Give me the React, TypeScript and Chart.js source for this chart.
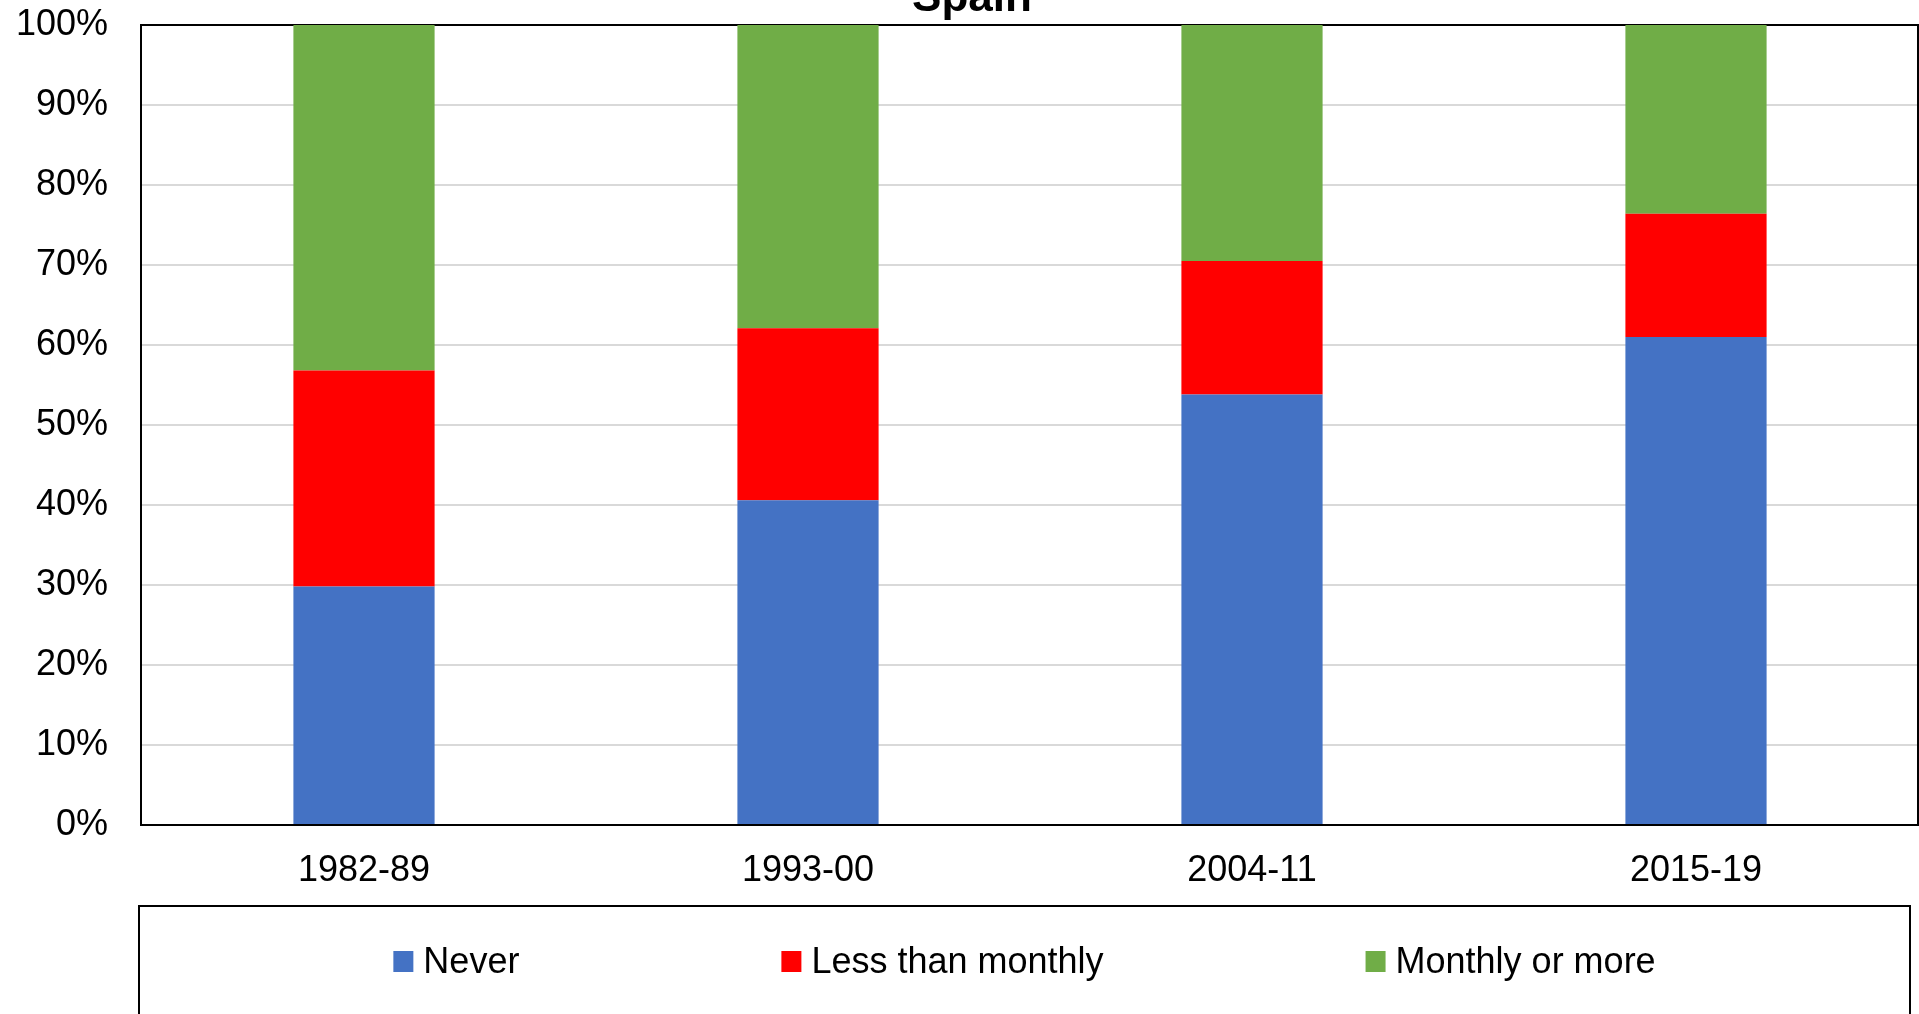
import React, { useEffect, useRef } from "react";
import { Chart, registerables } from "chart.js";

Chart.register(...registerables);

const chartTitle = "Spain";
const categories = ["1982-89", "1993-00", "2004-11", "2015-19"];
const seriesNames = ["Never", "Less than monthly", "Monthly or more"];
const neverValues = [29.8, 40.6, 53.8, 61.0];
const lessThanMonthlyValues = [27.0, 21.5, 16.7, 15.4];
const monthlyOrMoreValues = [43.2, 37.9, 29.5, 23.6];
const seriesColors = ["#4472C4", "#FF0000", "#70AD47"];
const yTickValues = [0, 10, 20, 30, 40, 50, 60, 70, 80, 90, 100];

const FONT = '"Liberation Sans", Arial, Helvetica, sans-serif';
const W = 1919;
const H = 1014;

const plotBorder = {
  id: "plotBorder",
  beforeDatasetsDraw(chart: any) {
    const { ctx, chartArea: a } = chart;
    ctx.save();
    ctx.strokeStyle = "#000000";
    ctx.lineWidth = 2;
    ctx.strokeRect(a.left - 1, a.top, a.right - a.left + 1, a.bottom - a.top);
    ctx.restore();
  },
};

// Title sits partly above the top edge of the canvas, as in the reference.
const croppedTitle = {
  id: "croppedTitle",
  afterDraw(chart: any, _args: any, opts: any) {
    const { ctx } = chart;
    ctx.save();
    ctx.font = `bold 44px ${FONT}`;
    ctx.fillStyle = "#000000";
    ctx.textAlign = "center";
    ctx.textBaseline = "alphabetic";
    ctx.fillText(opts.text, 972, 11);
    ctx.restore();
  },
};

const legendBox = {
  id: "legendBox",
  afterDraw(chart: any) {
    const { ctx, height } = chart;
    const boxLeft = 139;
    const boxTop = 906;
    const boxRight = 1910;
    ctx.save();
    ctx.lineWidth = 2;
    ctx.strokeStyle = "#000000";
    ctx.strokeRect(boxLeft, boxTop, boxRight - boxLeft, height - boxTop + 20);
    ctx.font = `36px ${FONT}`;
    const swatchW = 20;
    const swatchH = 21;
    const gap = 10;
    const itemGap = 262;
    const items = chart.data.datasets.map((ds: any) => ({
      text: ds.label as string,
      color: ds.backgroundColor as string,
      w: swatchW + gap + ctx.measureText(ds.label).width,
    }));
    const total =
      items.reduce((s: number, i: any) => s + i.w, 0) + itemGap * (items.length - 1);
    let x = (boxLeft + boxRight) / 2 - total / 2;
    const baseline = 973;
    items.forEach((it: any) => {
      ctx.fillStyle = it.color;
      ctx.fillRect(x, 951, swatchW, swatchH);
      ctx.fillStyle = "#000000";
      ctx.textBaseline = "alphabetic";
      ctx.textAlign = "left";
      ctx.fillText(it.text, x + swatchW + gap, baseline);
      x += it.w + itemGap;
    });
    ctx.restore();
  },
};

export default function App() {
  const canvasRef = useRef<HTMLCanvasElement | null>(null);

  useEffect(() => {
    if (!canvasRef.current) return;
    const chart = new Chart(canvasRef.current, {
      type: "bar",
      data: {
        labels: categories,
        datasets: [
          { label: seriesNames[0], data: neverValues, backgroundColor: seriesColors[0] },
          { label: seriesNames[1], data: lessThanMonthlyValues, backgroundColor: seriesColors[1] },
          { label: seriesNames[2], data: monthlyOrMoreValues, backgroundColor: seriesColors[2] },
        ],
      },
      options: {
        responsive: false,
        animation: false,
        devicePixelRatio: 1,
        layout: { padding: { left: 0, right: 1, top: 25, bottom: H - 906 } },
        datasets: {
          bar: { categoryPercentage: 1, barPercentage: 0.318, borderWidth: 0 },
        },
        plugins: {
          legend: { display: false },
          tooltip: { enabled: false },
          title: { display: false },
          croppedTitle: { text: chartTitle },
        },
        scales: {
          x: {
            stacked: true,
            grid: { display: false, drawTicks: false },
            border: { display: false },
            ticks: {
              color: "#000000",
              font: { family: FONT, size: 36 },
              padding: 24,
              maxRotation: 0,
              autoSkip: false,
            },
            afterFit(scale: any) {
              scale.height = 81;
              scale.paddingLeft = 0;
              scale.paddingRight = 0;
            },
          },
          y: {
            stacked: true,
            min: 0,
            max: 100,
            afterBuildTicks(scale: any) {
              scale.ticks = yTickValues.map((v) => ({ value: v }));
            },
            grid: { color: "#d9d9d9", lineWidth: 2, drawTicks: false },
            border: { display: false },
            ticks: {
              color: "#000000",
              font: { family: FONT, size: 36 },
              padding: 34,
              callback: (v: any) => `${v}%`,
            },
            afterFit(scale: any) {
              scale.width = 142;
              scale.paddingTop = 0;
              scale.paddingBottom = 0;
            },
          },
        },
      },
      plugins: [plotBorder, legendBox, croppedTitle],
    } as any);
    return () => chart.destroy();
  }, []);

  return (
    <div
      style={{
        position: "absolute",
        left: 0,
        top: 0,
        width: W,
        height: H,
        overflow: "hidden",
        background: "#ffffff",
      }}
    >
      <canvas ref={canvasRef} width={W} height={H} style={{ display: "block" }} />
    </div>
  );
}
